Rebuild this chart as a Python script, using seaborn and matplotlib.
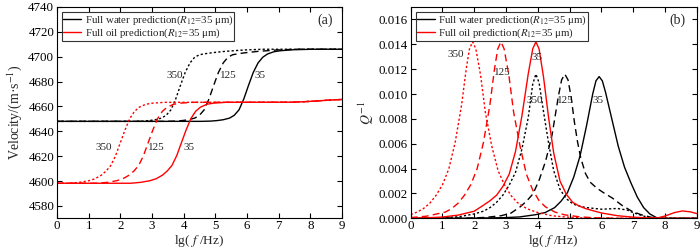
import matplotlib
matplotlib.use("Agg")
import matplotlib.pyplot as plt
import seaborn as sns

# ---------------- (a) velocity ----------------
# full water (black)
v_w35_x = [0, 4.55, 4.85, 5.05, 5.25, 5.45, 5.6, 5.75, 5.9, 6.05, 6.2, 6.35, 6.5, 6.65, 6.85, 7.05, 7.45, 8.05, 9]
v_w35 = [4648.0, 4648.0, 4648.2, 4648.6, 4649.3, 4650.6, 4652.9, 4657.3, 4666.0, 4677.0, 4687.4,
         4695.0, 4699.6, 4702.2, 4704.0, 4704.8, 4705.6, 4706.0, 4706.0]
v_w125_x = [0, 3.45, 3.75, 3.95, 4.15, 4.35, 4.5, 4.65, 4.8, 4.95, 5.1, 5.25, 5.4, 5.55, 5.75, 5.95,
            6.35, 6.95, 7.55, 9]
v_w125 = [4648.0, 4648.0, 4648.2, 4648.6, 4649.3, 4650.6, 4652.9, 4657.3, 4666.0, 4677.0, 4687.4,
          4695.0, 4699.6, 4701.6, 4702.5, 4703.2, 4704.3, 4705.4, 4706.0, 4706.0]
v_w350_x = [0, 2.4, 2.7, 2.9, 3.1, 3.3, 3.45, 3.6, 3.75, 3.9, 4.05, 4.2, 4.35, 4.5, 4.7, 4.9,
            5.3, 5.9, 6.5, 9]
v_w350 = [4648.0, 4648.0, 4648.2, 4648.6, 4649.3, 4650.6, 4652.9, 4657.3, 4666.0, 4677.0, 4687.4,
          4695.0, 4699.6, 4701.6, 4702.5, 4703.2, 4704.3, 4705.4, 4706.0, 4706.0]
# full oil (red)
v_o35_x = [0, 2.33, 2.63, 2.93, 3.13, 3.33, 3.48, 3.63, 3.78, 3.93, 4.08, 4.23, 4.38, 4.53, 4.73,
           4.93, 5.33, 7.4, 7.8, 8.2, 8.6, 9.0]
v_o35 = [4598.2, 4598.2, 4598.9, 4600.2, 4601.8, 4604.7, 4608.0, 4612.5, 4620.3, 4630.8, 4641.2,
         4650.3, 4656.1, 4659.4, 4661.7, 4662.6, 4663.3, 4663.4, 4663.8, 4664.4, 4665.1, 4665.6]
v_o125_x = [0, 1.28, 1.58, 1.88, 2.08, 2.28, 2.43, 2.58, 2.73, 2.88, 3.03, 3.18, 3.33, 3.48, 3.68,
            3.88, 4.28, 7.4, 7.8, 8.2, 8.6, 9.0]
v_o125 = [4598.2, 4598.2, 4598.9, 4600.2, 4601.8, 4604.7, 4608.0, 4612.5, 4620.3, 4630.8, 4641.2,
          4650.3, 4656.1, 4659.4, 4661.7, 4662.6, 4663.3, 4663.4, 4663.8, 4664.4, 4665.1, 4665.6]
v_o350_x = [0, 0.4, 0.7, 1.0, 1.2, 1.4, 1.55, 1.7, 1.85, 2.0, 2.15, 2.3, 2.45, 2.6, 2.8, 3.0,
            3.4, 7.4, 7.8, 8.2, 8.6, 9.0]
v_o350 = [4598.2, 4598.2, 4598.9, 4600.2, 4601.8, 4604.7, 4608.0, 4612.5, 4620.3, 4630.8, 4641.2,
          4650.3, 4656.1, 4659.4, 4661.7, 4662.6, 4663.3, 4663.4, 4663.8, 4664.4, 4665.1, 4665.6]

# ---------------- (b) attenuation Q^-1 ----------------
q_w35_x = [0, 1.93, 2.93, 3.43, 3.93, 4.23, 4.53, 4.73, 4.93, 5.13, 5.33, 5.53, 5.73, 5.83, 5.93,
           6.03, 6.13, 6.33, 6.53, 6.73, 6.93, 7.13, 7.33, 7.53, 7.73, 7.83, 9]
q_w35 = [0.0, 0.00001, 0.00005, 0.00011, 0.00029, 0.00046, 0.00086, 0.00137, 0.00205, 0.00331,
         0.00502, 0.00741, 0.01003, 0.01106, 0.0114, 0.01106, 0.01015, 0.00798, 0.00581, 0.0041,
         0.00285, 0.00171, 0.00086, 0.00034, 0.00006, 0.0, 0.0]
q_w125_x = [0, 1.85, 2.35, 2.85, 3.15, 3.45, 3.65, 3.85, 4.05, 4.25, 4.45, 4.65, 4.75, 4.85, 4.95,
            5.05, 5.15, 5.25, 5.35, 5.5, 5.65, 5.85, 6.05, 6.35, 6.65, 6.95, 7.25, 7.55, 7.75, 9]
q_w125 = [0.0, 0.00002, 0.00007, 0.00021, 0.00041, 0.00093, 0.00139, 0.00197, 0.00313, 0.00464,
          0.00673, 0.00986, 0.01114, 0.0116, 0.01114, 0.00974, 0.00777, 0.00615, 0.00487, 0.0036,
          0.0029, 0.00244, 0.00209, 0.00162, 0.00104, 0.00058, 0.00029, 0.00009, 0.0, 0.0]
q_w350_x = [0, 1.0, 1.5, 2.0, 2.3, 2.5, 2.7, 2.9, 3.1, 3.3, 3.5, 3.7, 3.84, 3.94, 4.04, 4.18, 4.34,
            4.5, 4.7, 4.9, 5.1, 5.3, 5.5, 6.0, 6.5, 6.8, 7.0, 7.3, 7.6, 9]
q_w350 = [0.00001, 0.00005, 0.00012, 0.00035, 0.00058, 0.00087, 0.00128, 0.00186, 0.00267, 0.00371,
          0.00557, 0.00812, 0.01079, 0.0116, 0.0109, 0.00858, 0.00603, 0.00383, 0.00232, 0.00157,
          0.00116, 0.00099, 0.00087, 0.00073, 0.00079, 0.00067, 0.00046, 0.0002, 0.0, 0.0]
q_o35_x = [0, 0.5, 1.0, 1.5, 2.0, 2.3, 2.5, 2.7, 2.9, 3.1, 3.3, 3.5, 3.7, 3.84, 3.94, 4.04, 4.18,
           4.34, 4.5, 4.7, 4.9, 5.1, 5.3, 5.5, 5.7, 6.0, 6.5, 7.0, 7.5, 7.75, 8.0, 8.3, 8.55, 8.8, 9.0]
q_o35 = [0.00002, 0.00004, 0.0001, 0.00026, 0.00057, 0.00107, 0.00142, 0.00185, 0.00256, 0.00355,
         0.0054, 0.00824, 0.01164, 0.01363, 0.0142, 0.01363, 0.01136, 0.00809, 0.00525, 0.00298,
         0.00192, 0.00128, 0.00099, 0.00078, 0.00064, 0.00043, 0.00021, 0.00009, 0.00003, 0.00002,
         0.00018, 0.00046, 0.00059, 0.00052, 0.00038]
q_o125_x = [0, 0.5, 1.09, 1.29, 1.49, 1.69, 1.89, 2.09, 2.29, 2.49, 2.64, 2.74, 2.84, 2.94, 3.09,
            3.24, 3.44, 3.64, 3.84, 4.04, 4.24, 4.54, 4.84, 5.34, 5.84, 6.5, 9]
q_o125 = [0.00006, 0.00017, 0.0005, 0.00078, 0.00121, 0.00185, 0.0027, 0.00398, 0.00611, 0.00909,
          0.01207, 0.01363, 0.0142, 0.01363, 0.0115, 0.00852, 0.00582, 0.00355, 0.00227, 0.00142,
          0.00092, 0.0005, 0.00028, 0.00011, 0.00004, 0.0, 0.0]
q_o350_x = [0, 0.2, 0.4, 0.6, 0.8, 1.0, 1.2, 1.4, 1.6, 1.75, 1.85, 1.95, 2.05, 2.2, 2.35, 2.55,
            2.75, 2.95, 3.15, 3.35, 3.65, 3.95, 4.45, 4.95, 5.45, 6.5, 9]
q_o350 = [0.0003, 0.0005, 0.00078, 0.00121, 0.00185, 0.0027, 0.00398, 0.00611, 0.00909, 0.01207,
          0.01363, 0.0142, 0.01363, 0.0115, 0.00852, 0.00582, 0.00383, 0.0027, 0.00185, 0.00128,
          0.00078, 0.0005, 0.0002, 0.00009, 0.00003, 0.0, 0.0]

legend_labels = [r"Full water prediction($R_{12}$=35 μm)", r"Full oil prediction($R_{12}$=35 μm)"]
xticks = [0, 1, 2, 3, 4, 5, 6, 7, 8, 9]
v_ticks = [4580, 4600, 4620, 4640, 4660, 4680, 4700, 4720, 4740]
q_ticks = [0.000, 0.002, 0.004, 0.006, 0.008, 0.010, 0.012, 0.014, 0.016]

sns.set_style("ticks")
plt.rcParams["font.family"] = ["Liberation Serif", "DejaVu Serif"]
plt.rcParams["mathtext.fontset"] = "stix"
plt.rcParams["axes.linewidth"] = 0.8

RED = "#ff0000"
DOT = (0, (1.6, 1.6))
DASH = (0, (5, 3))


def draw(ax, x, y, color, ls, label=None):
    sns.lineplot(x=x, y=y, ax=ax, color=color, linestyle=ls, linewidth=1.0,
                 label=label, legend=False, sort=False, estimator=None)


fig = plt.figure(figsize=(7, 2.49), dpi=100)
ax1 = fig.add_axes([0.0814, 0.1233, 0.4071, 0.8486])
ax2 = fig.add_axes([0.5867, 0.1233, 0.4086, 0.8486])

# panel (a)
draw(ax1, v_w350_x, v_w350, "black", DOT)
draw(ax1, v_w125_x, v_w125, "black", DASH)
draw(ax1, v_w35_x, v_w35, "black", "-", legend_labels[0])
draw(ax1, v_o350_x, v_o350, RED, DOT)
draw(ax1, v_o125_x, v_o125, RED, DASH)
draw(ax1, v_o35_x, v_o35, RED, "-", legend_labels[1])

# panel (b)
draw(ax2, q_w350_x, q_w350, "black", DOT)
draw(ax2, q_w125_x, q_w125, "black", DASH)
draw(ax2, q_w35_x, q_w35, "black", "-", legend_labels[0])
draw(ax2, q_o350_x, q_o350, RED, DOT)
draw(ax2, q_o125_x, q_o125, RED, DASH)
draw(ax2, q_o35_x, q_o35, RED, "-", legend_labels[1])

for ax in (ax1, ax2):
    ax.set_xlim(0, 9)
    ax.set_xticks(xticks)
    ax.tick_params(top=True, right=True, direction="in", length=3.5, width=0.8,
                   labelsize=9.3, pad=2, colors="black")
    ax.tick_params(axis="x", pad=1.2)
    for s in ax.spines.values():
        s.set_visible(True)
        s.set_color("black")
    ax.set_xlabel(r"lg( $f$ /Hz)", fontsize=9.6, va="bottom")
    ax.xaxis.set_label_coords(0.5, -0.143)
    leg = ax.legend(loc="upper left", bbox_to_anchor=(0.0175, 0.975), borderaxespad=0,
                    fontsize=7.8, frameon=True, fancybox=False, framealpha=1,
                    edgecolor="#333333", borderpad=0.1, labelspacing=0.0,
                    handlelength=1.7, handletextpad=0.3)
    leg.get_frame().set_linewidth(0.8)

ax1.set_ylim(4570, 4740)
ax1.set_yticks(v_ticks)
ax1.set_ylabel(r"Velocity/(m·s$^{-1}$)", fontsize=10, labelpad=3)
ax1.text(0.94, 0.935, "(a)", transform=ax1.transAxes, ha="center", va="center", fontsize=10)

ax2.set_ylim(0, 0.017)
ax2.set_yticks(q_ticks)
ax2.set_yticklabels([f"{t:.3f}" for t in q_ticks])
ax2.set_ylabel(r"$Q^{-1}$", fontsize=10, labelpad=2)
ax2.text(0.933, 0.935, "(b)", transform=ax2.transAxes, ha="center", va="center", fontsize=10)

# curve labels (R12 values)
fs = 8
for x, y, s in [(3.73, 4685, "350"), (5.42, 4685, "125"), (6.42, 4685, "35"),
                (1.49, 4627, "350"), (3.14, 4627, "125"), (4.17, 4627, "35")]:
    ax1.text(x, y, s, ha="center", va="center", fontsize=fs)
for x, y, s in [(1.43, 0.0132, "350"), (2.87, 0.0117, "125"), (3.97, 0.0129, "35"),
                (3.91, 0.0095, "350"), (4.86, 0.0095, "125"), (5.89, 0.0095, "35")]:
    ax2.text(x, y, s, ha="center", va="center", fontsize=fs)

fig.savefig("out.png", dpi=100)
